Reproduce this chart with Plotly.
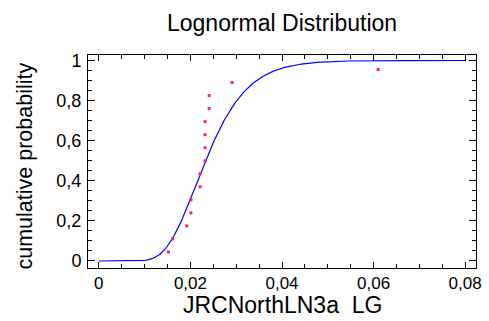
import math
import plotly.graph_objects as go

# Observed sample (sorted) and its cumulative plotting positions
sample_values = [0.0152, 0.0161, 0.0192, 0.0201, 0.0201, 0.0221, 0.0221, 0.0232,
                 0.0232, 0.0232, 0.0232, 0.0241, 0.0241, 0.0291, 0.0610]
cum_prob = [0.045, 0.110, 0.175, 0.240, 0.305, 0.370, 0.435, 0.500,
            0.565, 0.630, 0.695, 0.760, 0.825, 0.890, 0.955]

# Fitted lognormal parameters (log-scale mean and standard deviation)
log_mu = math.log(0.0233)
log_sigma = 0.305

x_tick_vals = [0, 0.02, 0.04, 0.06, 0.08]
x_tick_text = ["0", "0,02", "0,04", "0,06", "0,08"]
y_tick_vals = [0, 0.2, 0.4, 0.6, 0.8, 1]
y_tick_text = ["0", "0,2", "0,4", "0,6", "0,8", "1"]

# Fitted CDF evaluated along the x axis
n_grid = 400
curve_x = [0.08 * i / n_grid for i in range(n_grid + 1)]
curve_y = []
for x in curve_x:
    if x <= 0:
        curve_y.append(0.0)
    else:
        z = (math.log(x) - log_mu) / (log_sigma * math.sqrt(2))
        curve_y.append(0.5 * (1 + math.erf(z)))

FONT = "Liberation Sans, Arial, sans-serif"

fig = go.Figure()
fig.add_trace(go.Scatter(x=curve_x, y=curve_y, mode="lines",
                         line=dict(color="#0000ff", width=1.2),
                         hoverinfo="skip", showlegend=False))
fig.add_trace(go.Scatter(x=sample_values, y=cum_prob, mode="markers",
                         marker=dict(symbol="square", size=3, color="#ff1a8c",
                                     line=dict(width=0)),
                         showlegend=False))

axis_common = dict(
    showgrid=False, zeroline=False, showline=True, linecolor="black",
    linewidth=1, mirror="ticks", ticks="inside", tickcolor="black",
    tickwidth=1,
)

fig.update_layout(
    width=489, height=321,
    margin=dict(l=88, r=7, t=55, b=53),
    paper_bgcolor="white", plot_bgcolor="white",
    xaxis=dict(range=[-0.00237, 0.08237], tickvals=x_tick_vals,
               ticktext=x_tick_text, ticklen=6,
               tickfont=dict(family=FONT, size=17, color="black"),
               minor=dict(dtick=0.005, ticks="inside", ticklen=4,
                          tickcolor="black", tickwidth=1),
               **axis_common),
    yaxis=dict(range=[-0.035, 1.0274], tickvals=y_tick_vals,
               ticktext=y_tick_text, ticklen=7, ticklabelstandoff=2,
               tickfont=dict(family=FONT, size=18, color="black"),
               minor=dict(dtick=0.05, ticks="inside", ticklen=4,
                          tickcolor="black", tickwidth=1),
               **axis_common),
    annotations=[
        dict(text="Lognormal Distribution", xref="paper", yref="paper",
             x=0.5, y=1, yshift=32, xanchor="center", yanchor="middle",
             showarrow=False, font=dict(family=FONT, size=23, color="black")),
        dict(text="JRCNorthLN3a\u00a0 LG", xref="paper", yref="paper",
             x=0.5, y=0, yshift=-37, xanchor="center", yanchor="middle",
             showarrow=False, font=dict(family=FONT, size=23, color="black")),
        dict(text="cumulative probability", xref="paper", yref="paper",
             x=0, y=0.5, xshift=-64, yshift=-5, xanchor="center",
             yanchor="middle", textangle=-90, showarrow=False,
             font=dict(family=FONT, size=21.5, color="black")),
    ],
)

fig.write_html("out.html")
